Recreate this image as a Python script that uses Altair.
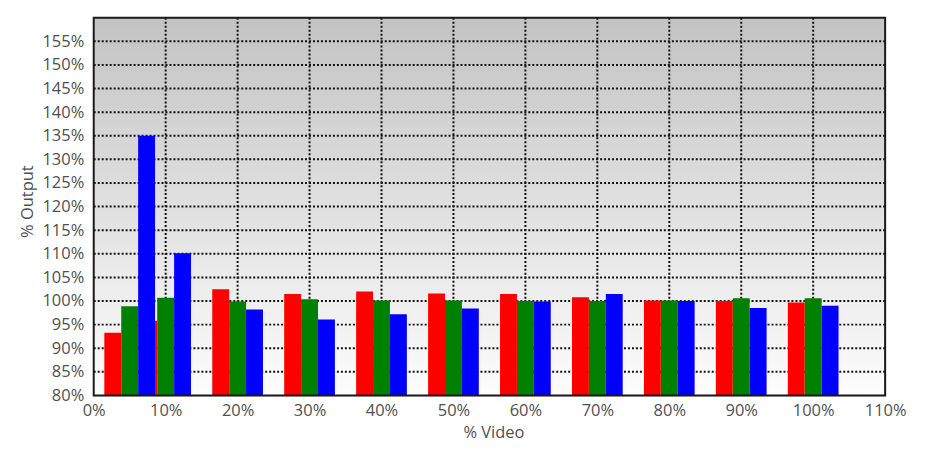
import altair as alt
import pandas as pd

# data
positions = [5, 10, 20, 30, 40, 50, 60, 70, 80, 90, 100]
red_vals = [93.3, 95.8, 102.5, 101.5, 102.0, 101.6, 101.5, 100.8, 100.1, 100.0, 99.7]
green_vals = [98.9, 100.7, 99.9, 100.4, 100.1, 100.1, 100.0, 100.0, 100.1, 100.6, 100.6]
blue_vals = [135.0, 110.1, 98.2, 96.1, 97.2, 98.4, 99.9, 101.5, 100.0, 98.5, 99.0]
series_names = ["R", "G", "B"]
series_colors = ["#ff0000", "#008000", "#0000ff"]

x_ticks = [0, 10, 20, 30, 40, 50, 60, 70, 80, 90, 100, 110]
y_ticks = [80, 85, 90, 95, 100, 105, 110, 115, 120, 125, 130, 135, 140, 145, 150, 155]
x_grid = [10, 20, 30, 40, 50, 60, 70, 80, 90, 100]
y_grid = [85, 90, 95, 100, 105, 110, 115, 120, 125, 130, 135, 140, 145, 150, 155]

W, H = 794, 379
BAR_W = 2.35  # bar width in x units
FONT = "Open Sans"
TXT = "#505050"
FS = 16.5

rows = []
for si, (name, vals) in enumerate(zip(series_names, [red_vals, green_vals, blue_vals])):
    for p, v in zip(positions, vals):
        rows.append({"pos": p, "val": v, "series": name, "si": si})
df = pd.DataFrame(rows)

xscale = alt.Scale(domain=[0, 110], nice=False, zero=False)
yscale = alt.Scale(domain=[80, 160], nice=False, zero=False)

xaxis = alt.Axis(
    values=x_ticks, labelExpr="datum.value + '%'", title="% Video",
    grid=False, ticks=False, domain=False, labelPadding=7,
    labelFontSize=FS, labelFont=FONT, labelColor=TXT,
    titleFontSize=FS, titleFont=FONT, titleColor=TXT, titleFontWeight="normal",
    titleX=401, titleY=29, labelFlush=False, labelOverlap=False,
)
yaxis = alt.Axis(
    values=y_ticks, labelExpr="datum.value + '%'", title="% Output",
    grid=False, ticks=False, domain=False, labelPadding=10,
    labelFontSize=FS, labelFont=FONT, labelColor=TXT,
    titleFontSize=FS, titleFont=FONT, titleColor=TXT, titleFontWeight="normal",
    titleX=-58, titleY=184, labelFlush=False, labelOverlap=False,
)

bg = alt.Chart(alt.Data(values=[{"a": 1}])).mark_rect(
    color=alt.Gradient(
        gradient="linear",
        x1=0, y1=0, x2=0, y2=1,
        stops=[alt.GradientStop(color="#c3c3c3", offset=0),
               alt.GradientStop(color="#fdfdfd", offset=1)],
    )
).encode(x=alt.value(0), x2=alt.value(W), y=alt.value(0), y2=alt.value(H))

hgrid = alt.Chart(pd.DataFrame({"y": y_grid})).mark_rule(
    color="#111111", strokeWidth=2, strokeDash=[2, 2]
).encode(y=alt.Y("y:Q", scale=yscale, axis=yaxis))

vgrid = alt.Chart(pd.DataFrame({"x": x_grid})).mark_rule(
    color="#111111", strokeWidth=2, strokeDash=[2, 2]
).encode(x=alt.X("x:Q", scale=xscale, axis=xaxis))

bars = alt.Chart(df).transform_calculate(
    x0=f"datum.pos + (datum.si - 1.5) * {BAR_W}",
    x1=f"datum.pos + (datum.si - 0.5) * {BAR_W}",
).mark_bar().encode(
    x=alt.X("x0:Q", scale=xscale, axis=xaxis),
    x2="x1:Q",
    y=alt.Y("val:Q", scale=yscale, axis=yaxis),
    y2=alt.datum(80),
    color=alt.Color("series:N", scale=alt.Scale(domain=series_names, range=series_colors), legend=None),
)

border = alt.Chart(alt.Data(values=[{"a": 1}])).mark_rect(
    fill=None, stroke="#1a1a1a", strokeWidth=2
).encode(x=alt.value(0), x2=alt.value(W), y=alt.value(0), y2=alt.value(H))

chart = alt.layer(bg, hgrid, vgrid, bars, border).properties(
    width=W, height=H,
    autosize=alt.AutoSizeParams(type="none"),
    padding={"left": 86, "top": 9, "right": 40, "bottom": 56},
).configure_view(stroke=None).configure(background="white")

chart.save("out.html", embed_options={"renderer": "svg", "actions": False})
